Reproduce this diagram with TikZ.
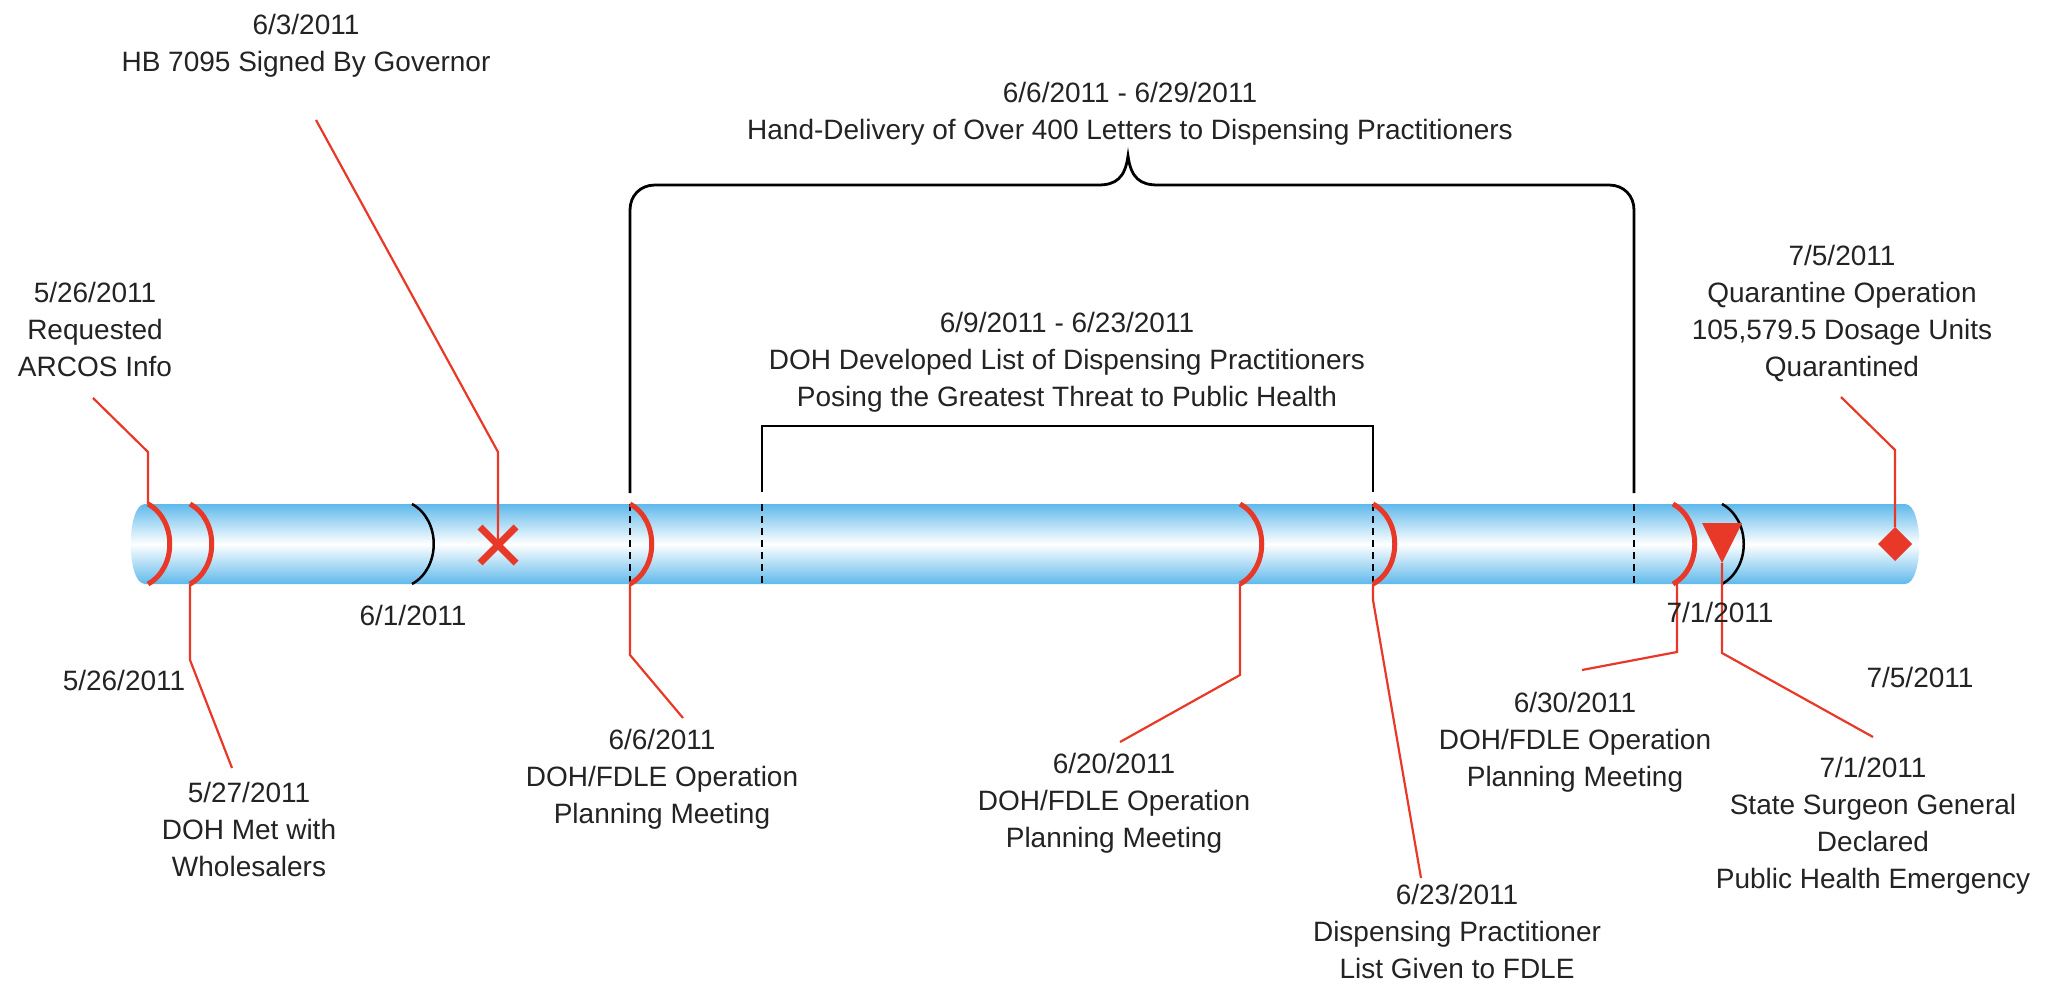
\documentclass[tikz,border=0pt]{standalone}
\usepackage{fontspec}
\setmainfont{Liberation Sans}
\usepackage{tikz}

\definecolor{barblue}{RGB}{95,185,235}
\definecolor{mkred}{RGB}{232,56,40}
\definecolor{txtgray}{RGB}{35,35,35}

\begin{document}
\begin{tikzpicture}[x=1pt, y=-1pt,
		lbl/.style={font=\fontsize{28}{37}\selectfont, align=center, text=txtgray, inner sep=0pt, anchor=north},
		leader/.style={draw=mkred, line width=2.2pt},
		redarc/.style={draw=mkred, line width=5pt},
		blackarc/.style={draw=black, line width=2.5pt},
		bracket/.style={draw=black, line width=2.8pt},
		thru/.style={draw=black, line width=2pt, dash pattern=on 7pt off 5pt}]
				\useasboundingbox (0,0) rectangle (2057,984);

				% the bar
				\shade[top color=barblue, bottom color=barblue, middle color=white] (145,504) -- (1905,504) .. controls (1924,504) and (1924,584) .. (1905,584) -- (145,584) .. controls (126,584) and (126,504) .. (145,504) -- cycle;

				\draw[thru] (630,504) -- (630,584);
				\draw[thru] (762,504) -- (762,584);
				\draw[thru] (1373,504) -- (1373,584);
				\draw[thru] (1634,504) -- (1634,584);

				% markers
				\coordinate (arcos) at (148,504);
				\coordinate (met) at (190,584);
				\coordinate (hbx) at (498,545);
				\coordinate (jun6) at (630,584);
				\coordinate (jun20) at (1240,584);
				\coordinate (jun23) at (1373,584);
				\coordinate (jun30) at (1677,584);
				\coordinate (jul1) at (1722,563);
				\coordinate (quar) at (1895,527);

				\draw[redarc] (148,504) .. controls (177,520) and (177,568) .. (148,584);
				\draw[redarc] (190,504) .. controls (219,520) and (219,568) .. (190,584);
				\draw[blackarc] (412,504) .. controls (441,520) and (441,568) .. (412,584);
				\draw[redarc] (630,504) .. controls (659,520) and (659,568) .. (630,584);
				\draw[redarc] (1240,504) .. controls (1269,520) and (1269,568) .. (1240,584);
				\draw[redarc] (1373,504) .. controls (1402,520) and (1402,568) .. (1373,584);
				\draw[redarc] (1673,504) .. controls (1702,520) and (1702,568) .. (1673,584);
				\draw[blackarc] (1722,504) .. controls (1751,520) and (1751,568) .. (1722,584);

				% leaders
				\coordinate (arcosbend) at (148,452);
				\coordinate (arcosend) at (93,398);
				\coordinate (metbend) at (190,660);
				\coordinate (metend) at (232,768);
				\coordinate (hbbend) at (498,452);
				\coordinate (hbend) at (316,120);
				\coordinate (jun6bend) at (630,655);
				\coordinate (jun6end) at (683,718);
				\coordinate (jun20bend) at (1240,675);
				\coordinate (jun20end) at (1120,742);
				\coordinate (jun23bend) at (1373,600);
				\coordinate (jun23end) at (1421,878);
				\coordinate (jun30bend) at (1677,652);
				\coordinate (jun30end) at (1582,670);
				\coordinate (jul1bend) at (1722,653);
				\coordinate (jul1end) at (1873,737);
				\coordinate (quarbend) at (1895,450);
				\coordinate (quarend) at (1841,397);

				\draw[leader] (arcos) -- (arcosbend) -- (arcosend);
				\draw[leader] (met) -- (metbend) -- (metend);
				\draw[leader] (hbx) -- (hbbend) -- (hbend);
				\draw[leader] (jun6) -- (jun6bend) -- (jun6end);
				\draw[leader] (jun20) -- (jun20bend) -- (jun20end);
				\draw[leader] (jun23) -- (jun23bend) -- (jun23end);
				\draw[leader] (jun30) -- (jun30bend) -- (jun30end);
				\draw[leader] (jul1) -- (jul1bend) -- (jul1end);
				\draw[leader] (quar) -- (quarbend) -- (quarend);

				\draw[mkred, line width=7pt] (480,527) -- (516,563);
				\draw[mkred, line width=7pt] (480,563) -- (516,527);
				\fill[mkred] (1702,523) -- (1742,523) -- (jul1) -- cycle;
				\fill[mkred] (quar) -- (1912,544) -- (1895,561) -- (1878,544) -- cycle;

				% brackets
				\coordinate (handL) at (630,493);
				\coordinate (handR) at (1634,493);
				\coordinate (handtip) at (1128,156);
				\coordinate (listL) at (762,492);
				\coordinate (listR) at (1373,492);

				\draw[bracket] (handL) -- (630,210) .. controls (630,196) and (640,185) .. (655,185) -- (1098,185) .. controls (1116,185) and (1125,178) .. (handtip) .. controls (1131,178) and (1140,185) .. (1158,185) -- (1609,185) .. controls (1624,185) and (1634,196) .. (1634,210) -- (handR);
				\draw[bracket] (listL) -- (762,426) -- (1373,426) -- (listR);

				% labels
				\node[lbl] (hbtxt) at (306,14) {6/3/2011\\HB 7095 Signed By Governor};
				\node[lbl] (handtxt) at (1130,82) {6/6/2011 - 6/29/2011\\Hand-Delivery of Over 400 Letters to Dispensing Practitioners};
				\node[lbl] (arcostxt) at (95,282) {5/26/2011\\Requested\\ARCOS Info};
				\node[lbl] (listtxt) at (1067,312) {6/9/2011 - 6/23/2011\\DOH Developed List of Dispensing Practitioners\\Posing the Greatest Threat to Public Health};
				\node[lbl] (quartxt) at (1842,245) {7/5/2011\\Quarantine Operation\\105,579.5 Dosage Units\\Quarantined};
				\node[lbl] (jun1txt) at (413,605) {6/1/2011};
				\node[lbl] (may26txt) at (124,670) {5/26/2011};
				\node[lbl] (mettxt) at (249,782) {5/27/2011\\DOH Met with\\Wholesalers};
				\node[lbl] (jun6txt) at (662,729) {6/6/2011\\DOH/FDLE Operation\\Planning Meeting};
				\node[lbl] (jun20txt) at (1114,753) {6/20/2011\\DOH/FDLE Operation\\Planning Meeting};
				\node[lbl] (jun23txt) at (1457,884) {6/23/2011\\Dispensing Practitioner\\List Given to FDLE};
				\node[lbl] (jun30txt) at (1575,692) {6/30/2011\\DOH/FDLE Operation\\Planning Meeting};
				\node[lbl] (jul1atxt) at (1720,602) {7/1/2011};
				\node[lbl] (jul5txt) at (1920,667) {7/5/2011};
				\node[lbl] (jul1btxt) at (1873,757) {7/1/2011\\State Surgeon General\\Declared\\Public Health Emergency};
		\end{tikzpicture}
\end{document}
